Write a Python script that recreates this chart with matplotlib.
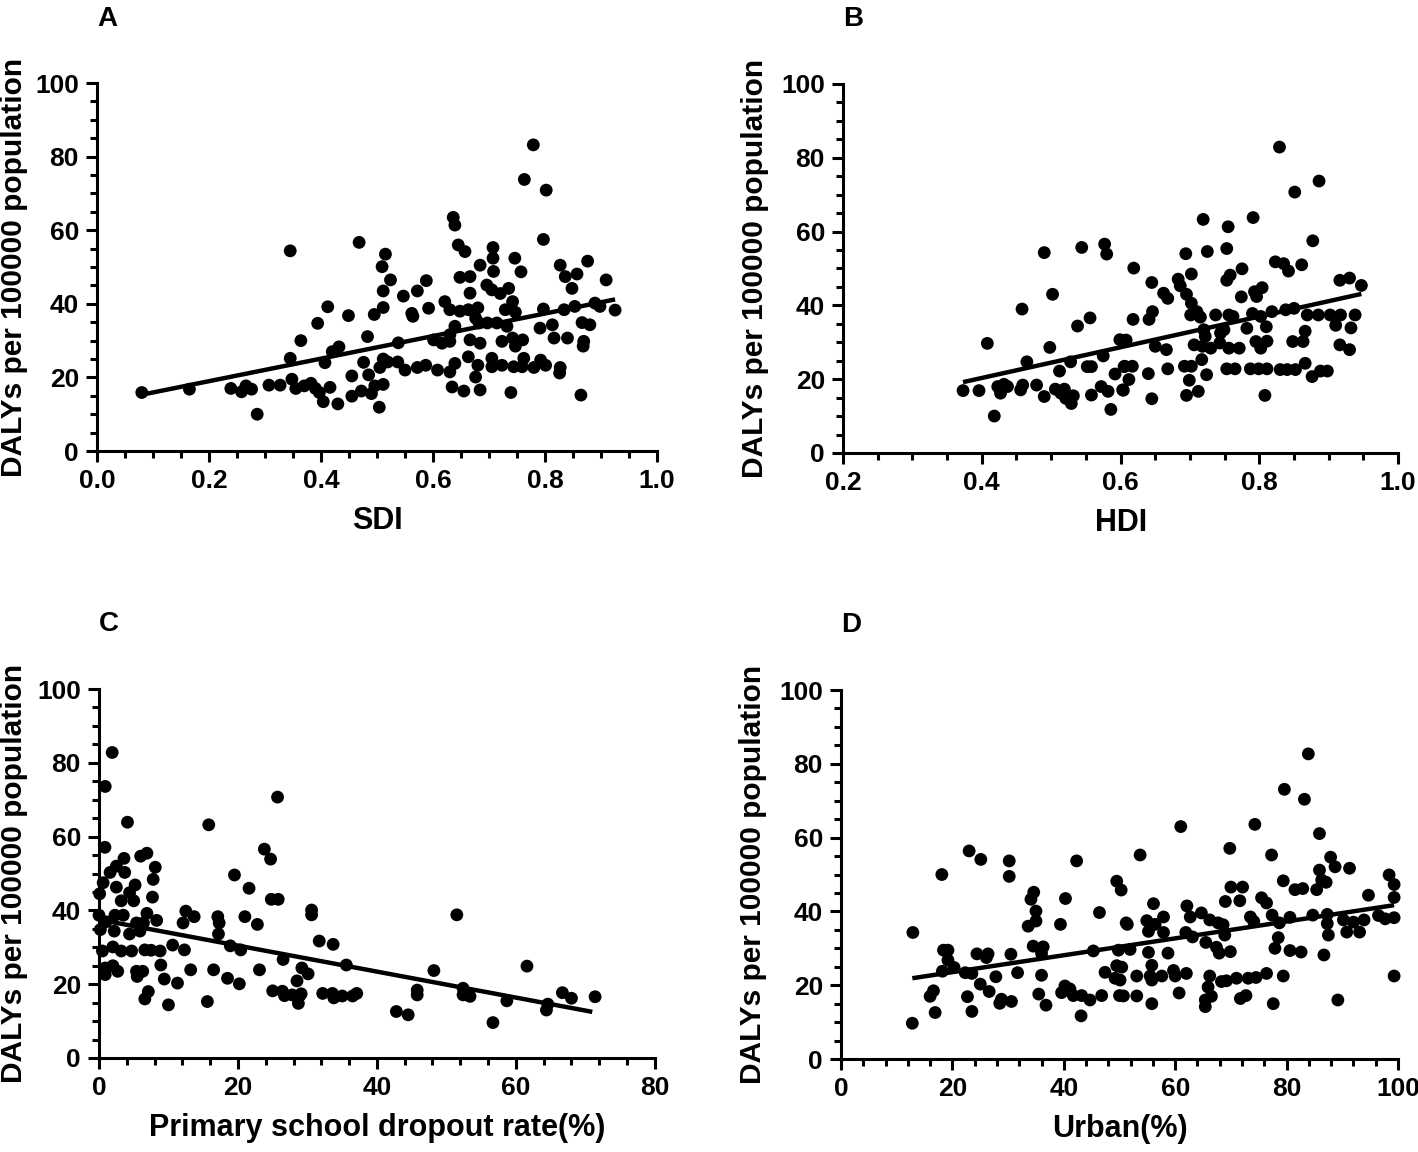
import numpy as np
import matplotlib
matplotlib.use("Agg")
import matplotlib.pyplot as plt
from matplotlib.ticker import MultipleLocator, FormatStrFormatter

plt.rcParams['font.family'] = ['Liberation Sans', 'DejaVu Sans']
plt.rcParams['font.weight'] = 'bold'

# ---- Panel A: SDI ----
sdi_x = [0.08, 0.165, 0.239, 0.258, 0.266, 0.276, 0.286, 0.307, 0.327, 0.345, 0.345, 0.348, 0.355,
         0.364, 0.37, 0.382, 0.39, 0.394, 0.397, 0.404, 0.407, 0.412, 0.416, 0.420, 0.430, 0.432,
         0.449, 0.455, 0.455, 0.468, 0.472, 0.476, 0.483, 0.485, 0.49, 0.495, 0.496, 0.504, 0.505,
         0.509, 0.511, 0.511, 0.511, 0.511, 0.515,
         0.779, 0.763, 0.802, 0.797, 0.636, 0.639, 0.645, 0.657, 0.524, 0.547, 0.572, 0.588, 0.562,
         0.564, 0.592, 0.621, 0.630, 0.648, 0.666, 0.666, 0.648, 0.663, 0.680, 0.684, 0.707, 0.707,
         0.708, 0.696, 0.705, 0.720, 0.735, 0.742, 0.729, 0.747, 0.746, 0.757, 0.676, 0.682, 0.697,
         0.714, 0.732, 0.639, 0.630, 0.601, 0.616, 0.630, 0.538, 0.666, 0.684, 0.723, 0.742, 0.760,
         0.747, 0.791, 0.813, 0.816, 0.840, 0.866, 0.880, 0.869, 0.868, 0.797, 0.827, 0.836, 0.848,
         0.857, 0.876, 0.909, 0.834, 0.853, 0.889, 0.898, 0.925, 0.519, 0.537, 0.55, 0.572, 0.587,
         0.608, 0.630, 0.639, 0.663, 0.680, 0.634, 0.655, 0.676, 0.684, 0.705, 0.705, 0.723, 0.744,
         0.762, 0.759, 0.780, 0.792, 0.801, 0.827, 0.826, 0.739, 0.864]
sdi_y = [15.9, 16.8, 17.0, 16.1, 17.7, 16.8, 10.0, 17.9, 17.9, 54.4, 25.2, 19.5, 17.0,
         30.0, 17.7, 18.4, 17.0, 34.7, 15.9, 13.4, 24.0, 39.2, 17.3, 27.0, 12.8, 28.3,
         36.8, 20.4, 14.9, 56.7, 16.3, 24.1, 31.1, 20.7, 15.6, 37.1, 17.7, 11.9, 22.7,
         50.1, 43.5, 39.0, 25.0, 18.1, 53.5,
         83.2, 73.8, 70.9, 57.5, 63.5, 61.4, 56.0, 54.2, 46.5, 42.1, 43.5, 46.3, 37.4,
         36.6, 38.8, 40.6, 38.4, 47.2, 47.4, 42.9, 38.0, 38.4, 38.9, 50.5, 55.3, 52.4,
         48.8, 45.1, 43.8, 42.8, 44.2, 40.6, 38.4, 37.7, 52.4, 48.7, 36.1, 34.8, 34.8,
         34.8, 33.9, 33.9, 31.6, 30.2, 29.3, 29.8, 29.4, 30.2, 29.3, 29.8, 30.7, 30.2,
         28.5, 33.4, 34.3, 30.7, 30.7, 34.9, 34.3, 29.8, 28.5, 38.6, 50.5, 47.4, 44.2,
         48.1, 51.6, 46.5, 38.4, 39.3, 40.2, 39.3, 38.3, 24.2, 24.2, 22.0, 22.7, 23.3,
         22.0, 21.5, 23.8, 25.6, 23.3, 17.4, 16.3, 20.1, 16.6, 25.2, 22.9, 23.3, 22.9,
         25.2, 22.9, 22.7, 24.7, 23.3, 22.7, 21.2, 15.9, 15.2]
sdi_fit_x = [0.08, 0.925]
sdi_fit_y = [15.3, 41.2]

# ---- Panel B: HDI ----
hdi_x = [0.373, 0.396, 0.408, 0.418, 0.423, 0.427, 0.432, 0.437, 0.456, 0.458, 0.459, 0.465, 0.479,
         0.490, 0.490, 0.498, 0.502, 0.506, 0.512, 0.514, 0.519, 0.521, 0.529, 0.528, 0.532, 0.538,
         0.544, 0.552, 0.556, 0.558, 0.558, 0.572, 0.575, 0.577, 0.580, 0.582, 0.586, 0.592, 0.599,
         0.603, 0.605,
         0.829, 0.886, 0.851, 0.877, 0.791, 0.719, 0.755, 0.725, 0.753, 0.694, 0.619, 0.702, 0.683,
         0.686, 0.645, 0.662, 0.668, 0.695, 0.702, 0.753, 0.758, 0.775, 0.774, 0.793, 0.804, 0.796,
         0.823, 0.835, 0.842, 0.861, 0.618, 0.641, 0.646, 0.701, 0.715, 0.710, 0.737, 0.756, 0.762,
         0.790, 0.802, 0.818, 0.838, 0.850, 0.869, 0.885, 0.902, 0.917, 0.938, 0.916, 0.930, 0.947,
         0.810, 0.782, 0.749, 0.744, 0.720, 0.722, 0.608, 0.650, 0.666, 0.706, 0.718, 0.730, 0.743,
         0.756, 0.771, 0.795, 0.802, 0.811, 0.848, 0.863, 0.866, 0.910, 0.932, 0.916, 0.930, 0.606,
         0.617, 0.612, 0.604, 0.640, 0.645, 0.668, 0.692, 0.702, 0.699, 0.717, 0.724, 0.695, 0.712,
         0.753, 0.765, 0.787, 0.799, 0.811, 0.830, 0.840, 0.852, 0.866, 0.876, 0.888, 0.898, 0.808]
hdi_y = [16.9, 16.9, 29.7, 10.0, 18.0, 16.2, 18.6, 18.0, 17.1, 39.0, 18.4, 24.7, 18.4,
         54.3, 15.3, 28.6, 43.0, 17.3, 22.2, 16.2, 17.3, 14.8, 13.4, 24.7, 15.5, 34.4,
         55.7, 23.4, 36.6, 23.4, 15.7, 18.0, 26.3, 56.6, 53.9, 16.7, 11.8, 21.4, 30.7,
         17.1, 23.4,
         82.9, 73.7, 70.7, 57.5, 63.8, 63.3, 61.3, 54.6, 55.4, 54.0, 50.1, 48.5, 47.1,
         45.3, 46.2, 43.3, 41.9, 43.0, 40.6, 46.8, 48.2, 49.9, 42.3, 43.7, 44.8, 42.4,
         51.8, 51.3, 49.3, 51.0, 36.2, 36.2, 38.3, 37.4, 36.8, 38.3, 37.4, 37.4, 37.0,
         37.8, 37.0, 38.3, 38.8, 39.2, 37.4, 37.4, 37.4, 37.4, 37.4, 46.8, 47.4, 45.4,
         34.2, 33.8, 33.4, 32.5, 33.4, 31.6, 30.6, 28.9, 28.0, 29.3, 28.9, 28.4, 29.8,
         28.4, 28.4, 30.2, 28.4, 30.3, 30.2, 30.2, 33.0, 34.6, 33.9, 29.3, 28.0, 23.5,
         23.5, 19.9, 17.0, 21.5, 14.7, 22.8, 23.5, 23.5, 19.7, 25.3, 21.2, 15.6, 16.7,
         22.8, 22.8, 22.8, 22.8, 22.8, 22.6, 22.6, 22.6, 24.3, 20.7, 22.2, 22.2, 15.6]
hdi_fit_x = [0.373, 0.947]
hdi_fit_y = [19.2, 43.1]

# ---- Panel C: primary school dropout rate ----
drop_x = [1.9, 0.9, 25.7, 4.1, 15.8, 0.86, 3.6, 6.0, 6.9, 23.8, 24.7, 8.1, 7.8, 2.5, 3.7, 1.6,
          0.6, 0.1, 2.5, 5.2, 4.4, 3.2, 5.0, 7.7, 19.5, 21.6, 24.8, 25.8, 12.5, 13.7, 12.1, 17.1,
          17.3, 21.0, 22.8, 6.9, 8.3, 0.0, 1.0, 2.3, 3.5, 5.4, 6.4, 0.2, 2.2, 4.4, 5.9, 17.2,
          10.6, 12.3, 18.9, 20.4, 26.5, 0.5, 2.0, 3.2, 4.7, 6.6, 7.5, 8.8, 0.9, 2.0, 2.7, 0.9,
          5.4, 6.3, 5.5, 8.9, 13.2, 16.5, 18.5, 20.2, 23.1, 9.4, 11.3, 7.1, 6.6, 10.0, 15.6, 25.0,
          26.4, 26.7,
          30.6, 30.6, 51.5, 31.7, 33.7, 35.6, 48.2, 61.6, 29.2, 30.1, 28.5, 27.8, 28.9, 29.1, 28.7,
          32.2, 33.6, 33.8, 35.0, 36.5, 37.1, 42.8, 44.5, 45.8, 45.8, 52.4, 52.4, 53.4, 58.7, 56.7,
          64.4, 64.6, 66.7, 68.0, 71.4]
drop_y = [82.8, 73.6, 70.7, 63.9, 63.2, 57.1, 54.1, 54.7, 55.5, 56.6, 53.9, 51.7, 48.4, 52.0, 50.3, 50.3,
          47.5, 44.5, 46.3, 46.9, 44.8, 42.6, 42.6, 43.6, 49.6, 46.0, 43.0, 43.0, 39.8, 38.3, 36.6, 38.3,
          36.6, 38.3, 36.2, 39.2, 37.3, 38.7, 36.9, 38.7, 38.7, 36.6, 36.6, 34.8, 34.4, 33.6, 34.4, 33.6,
          30.6, 29.3, 30.4, 29.3, 26.7, 29.0, 30.1, 29.0, 29.0, 29.3, 29.2, 29.0, 24.4, 25.0, 23.5, 22.6,
          23.5, 23.5, 22.1, 25.2, 23.9, 23.9, 21.6, 20.1, 23.9, 21.4, 20.3, 18.0, 16.0, 14.4, 15.3, 18.2,
          18.1, 16.9,
          40.1, 38.8, 38.8, 31.7, 30.8, 25.2, 23.7, 24.9, 24.4, 22.8, 20.9, 17.1, 16.9, 17.4, 14.8,
          17.5, 17.5, 16.3, 16.8, 16.8, 17.5, 12.6, 11.7, 18.4, 17.1, 18.9, 17.1, 16.7, 15.5, 9.6,
          13.0, 14.6, 17.7, 16.2, 16.6]
drop_fit_x = [0.0, 71.0]
drop_fit_y = [37.5, 12.5]

# ---- Panel D: urban ----
urban_x = [12.8, 12.9, 18.1, 23.0, 25.1, 30.2, 30.2, 42.3, 49.5, 50.3, 34.1, 34.6, 40.3, 35.0, 35.0,
           33.6, 39.4, 46.4, 51.4, 18.4, 19.2, 19.2, 20.3, 18.2, 22.3, 23.5, 24.4, 26.4, 26.1, 30.5,
           34.5, 36.3, 36.0, 31.7, 36.0, 27.8, 25.0, 26.6, 16.6, 16.0, 16.9, 22.7, 23.5, 28.8, 28.5,
           30.6, 35.5, 36.8, 40.2, 39.6, 41.1, 41.7, 43.2, 44.7, 46.8, 43.1, 45.3, 47.4, 49.5, 49.2,
           50.0, 49.8,
           83.9, 79.6, 83.2, 61.0, 74.3, 85.9, 53.7, 69.8, 77.3, 87.9, 88.7, 85.9, 91.3, 98.4, 99.3,
           99.3, 99.3, 99.3, 94.7, 79.4, 81.5, 82.9, 86.3, 85.4, 87.1, 70.0, 72.1, 69.0, 71.6, 75.5,
           76.4, 56.1, 62.1, 62.7, 64.7, 51.2, 54.9, 55.2, 56.4, 57.9, 57.9, 66.2, 67.7, 68.6, 73.5,
           74.1, 77.4, 78.7, 80.6, 84.7, 87.3, 87.3, 90.2, 92.0, 93.9, 96.5, 97.7, 61.9, 63.1, 68.9,
           87.5, 90.8, 93.1, 78.5, 77.9, 80.6, 82.6, 86.7, 65.5, 67.4, 67.9, 69.9, 51.9, 55.2, 58.7,
           50.4, 50.1, 53.1, 55.5, 55.8, 55.8, 57.6, 59.7, 60.0, 62.0, 66.2, 65.9, 68.3, 69.2, 71.0,
           73.1, 74.5, 76.4, 79.4, 50.7, 53.1, 55.8, 60.7, 65.4, 65.4, 66.5, 71.7, 72.7, 77.6, 89.2]
urban_y = [9.7, 34.3, 50.0, 56.4, 54.1, 53.7, 49.5, 53.7, 48.2, 45.8, 43.3, 45.2, 43.5, 40.1, 37.4,
           36.0, 36.5, 39.7, 36.5, 29.5, 29.5, 26.8, 24.8, 23.8, 23.4, 23.2, 28.5, 28.5, 27.5, 28.4,
           30.6, 30.4, 28.6, 23.4, 22.7, 22.3, 20.3, 18.3, 18.5, 17.0, 12.6, 16.9, 12.9, 16.2, 15.1,
           15.6, 17.6, 14.6, 19.8, 18.0, 19.0, 17.2, 17.2, 16.0, 17.2, 11.7, 29.3, 23.5, 25.3, 21.9,
           17.2, 29.5,
           82.7, 73.1, 70.4, 63.0, 63.6, 61.1, 55.3, 57.1, 55.3, 54.7, 52.1, 51.2, 51.7, 49.9, 47.3,
           43.8, 38.3, 22.5, 44.4, 48.3, 45.9, 46.2, 48.5, 45.9, 47.9, 46.6, 46.6, 42.7, 42.9, 43.7,
           42.3, 42.1, 41.5, 38.5, 39.6, 36.9, 37.5, 34.6, 36.5, 38.5, 34.3, 37.7, 36.9, 36.4, 38.5,
           37.3, 39.0, 36.9, 38.4, 39.0, 39.2, 36.7, 37.7, 37.1, 37.7, 38.9, 38.0, 34.3, 33.1, 33.6,
           33.6, 34.4, 34.4, 32.9, 30.0, 29.4, 29.0, 28.2, 31.6, 30.3, 28.7, 29.1, 29.7, 28.9, 28.7,
           24.9, 21.4, 22.5, 22.5, 21.4, 25.4, 22.5, 24.0, 22.5, 23.2, 22.5, 19.5, 21.0, 21.2, 21.9,
           21.9, 22.1, 23.2, 22.5, 17.1, 17.1, 15.0, 17.9, 16.0, 14.2, 17.0, 16.4, 17.2, 15.0, 16.0]
urban_fit_x = [12.8, 99.3]
urban_fit_y = [21.9, 41.7]

ylabel = "DALYs per 100000 population"

fig = plt.figure(figsize=(14.18, 11.52), dpi=100)

panels = [
    # letter, rect, x, y, fitx, fity, xlabel, xlim, xmajor, xminor, fmt, ylabel x
    ("A", [0.0684, 0.6085, 0.395, 0.3194], sdi_x, sdi_y, sdi_fit_x, sdi_fit_y, "SDI",
     (0.0, 1.0), 0.2, 0.05, "%.1f", -0.124),
    ("B", [0.5945, 0.6068, 0.3915, 0.3203], hdi_x, hdi_y, hdi_fit_x, hdi_fit_y, "HDI",
     (0.2, 1.0), 0.2, 0.05, "%.1f", -0.133),
    ("C", [0.0698, 0.0816, 0.392, 0.3203], drop_x, drop_y, drop_fit_x, drop_fit_y,
     "Primary school dropout rate(%)", (0, 80), 20, 4, "%d", -0.127),
    ("D", [0.5931, 0.0807, 0.3928, 0.3203], urban_x, urban_y, urban_fit_x, urban_fit_y,
     "Urban(%)", (0, 100), 20, 4, "%d", -0.133),
]

for letter, rect, x, y, fx, fy, xlab, xlim, xmaj, xmin, fmt, ylx in panels:
    ax = fig.add_axes(rect)
    ax.scatter(x, y, s=85, color="black", edgecolors="none", zorder=3, clip_on=False)
    ax.plot(fx, fy, color="black", lw=3.2, solid_capstyle="butt", zorder=4)
    ax.set_xlim(*xlim)
    ax.set_ylim(0, 100)
    ax.xaxis.set_major_locator(MultipleLocator(xmaj))
    ax.xaxis.set_minor_locator(MultipleLocator(xmin))
    ax.xaxis.set_major_formatter(FormatStrFormatter(fmt))
    ax.yaxis.set_major_locator(MultipleLocator(20))
    ax.yaxis.set_minor_locator(MultipleLocator(5))
    for s in ["top", "right"]:
        ax.spines[s].set_visible(False)
    for s in ["left", "bottom"]:
        ax.spines[s].set_linewidth(2.2)
    ax.tick_params(which="major", direction="out", length=8, width=2.2, labelsize=19, pad=5)
    ax.tick_params(which="minor", direction="out", length=5, width=2.2)
    for lab in ax.get_xticklabels() + ax.get_yticklabels():
        lab.set_fontweight("bold")
    ax.set_xlabel(xlab, fontsize=22, fontweight="bold", labelpad=9)
    ax.set_ylabel(ylabel, fontsize=21.5, fontweight="bold")
    ax.yaxis.set_label_coords(ylx, 0.5)
    ax.text(0.0, 1.175, letter, transform=ax.transAxes, fontsize=20, fontweight="bold",
            ha="left", va="center")

fig.savefig("out.png", dpi=100)
